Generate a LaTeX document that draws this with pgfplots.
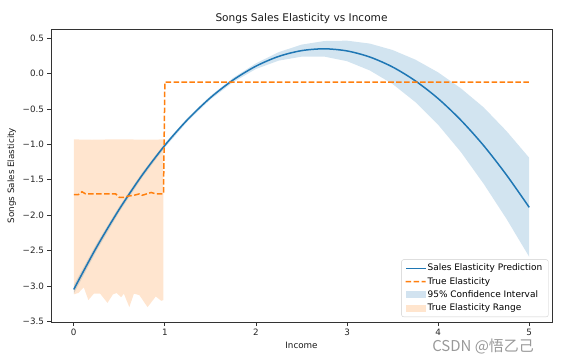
\documentclass[border=0pt]{standalone}
\usepackage{fontspec}
\setmainfont{DejaVu Sans}
\newfontfamily\cjk{Noto Sans CJK SC}
\usepackage{pgfplots}
\pgfplotsset{compat=1.18}
\definecolor{mplblue}{HTML}{1F77B4}
\definecolor{mplorange}{HTML}{FF7F0E}
\begin{document}
\begin{tikzpicture}
\useasboundingbox (-51bp,-36bp) rectangle (511bp,322bp);
\begin{axis}[
  at={(0,0)}, anchor=south west,
  scale only axis, width=501bp, height=293bp,
  xmin=-0.25, xmax=5.25, ymin=-3.51, ymax=0.63,
  xtick={0,1,2,3,4,5}, xticklabels={0,1,2,3,4,5},
  ytick={-3.5,-3,-2.5,-2,-1.5,-1,-0.5,0,0.5},
  yticklabels={−3.5,−3.0,−2.5,−2.0,−1.5,−1.0,−0.5,0.0,0.5},
  tick align=outside, tick pos=left,
  major tick length=3.5bp,
  tick style={black!80, line width=0.8bp},
  axis line style={black!80, line width=0.8bp},
  ticklabel style={font=\fontsize{8.8}{10}\selectfont, text=black!85},
  title={Songs Sales Elasticity vs Income},
  title style={font=\fontsize{10.6}{12}\selectfont, text=black!90, yshift=-4.5bp},
  xlabel={Income}, ylabel={Songs Sales Elasticity},
  label style={font=\fontsize{8.8}{10}\selectfont, text=black!90},
  legend style={at={(0.993,0.017)}, anchor=south east, draw=black!20,
    rounded corners=2bp, fill=white,
    font=\fontsize{9}{10}\selectfont, cells={anchor=west},
    inner xsep=4bp, inner ysep=2.5bp, row sep=1bp},
]
% 95% confidence interval (upper then lower reversed)
\addplot[draw=none, fill=mplblue, fill opacity=0.2, forget plot] coordinates {
(0,-2.990) (0.25,-2.404) (0.5,-1.876) (0.75,-1.401) (1,-0.984) (1.25,-0.624)
(1.5,-0.316) (1.75,-0.060) (2,0.145) (2.25,0.303) (2.5,0.409) (2.75,0.460)
(3,0.465) (3.25,0.424) (3.5,0.333) (3.75,0.197) (4,0.017) (4.25,-0.209)
(4.5,-0.478) (4.75,-0.812) (5,-1.190)
(5,-2.590) (4.75,-2.052) (4.5,-1.558) (4.25,-1.109) (4,-0.723) (3.75,-0.403)
(3.5,-0.147) (3.25,0.044) (3,0.175) (2.75,0.240) (2.5,0.239) (2.25,0.183)
(2,0.065) (1.75,-0.120) (1.5,-0.366) (1.25,-0.674) (1,-1.044) (0.75,-1.471)
(0.5,-1.956) (0.25,-2.504) (0,-3.110)
} -- cycle;
% true elasticity range
\addplot[draw=none, fill=mplorange, fill opacity=0.2, forget plot] coordinates {
(0,-0.93) (0.2,-0.935) (0.4,-0.93) (0.6,-0.93) (0.8,-0.935) (0.985,-0.93)
(0.985,-3.20) (0.96,-3.21) (0.9,-3.15) (0.81,-3.30) (0.72,-3.13) (0.66,-3.11)
(0.61,-3.30) (0.55,-3.11) (0.52,-3.16) (0.47,-3.10) (0.43,-3.12) (0.37,-3.24)
(0.29,-3.11) (0.22,-3.11) (0.16,-3.20) (0.11,-3.02) (0.05,-3.10) (0,-3.12)
} -- cycle;
% prediction
\addplot[draw=mplblue, line width=1.5bp, smooth, forget plot] coordinates {
(0,-3.050) (0.25,-2.454) (0.5,-1.916) (0.75,-1.436) (1,-1.014) (1.25,-0.649)
(1.5,-0.341) (1.75,-0.090) (2,0.105) (2.25,0.243) (2.5,0.324) (2.75,0.350)
(3,0.320) (3.25,0.234) (3.5,0.093) (3.75,-0.103) (4,-0.353) (4.25,-0.659)
(4.5,-1.018) (4.75,-1.432) (5,-1.890)
};
% true elasticity
\addplot[draw=mplorange, line width=1.5bp, dash pattern=on 5.55bp off 2.4bp, forget plot] coordinates {
(0,-1.71) (0.05,-1.71) (0.09,-1.67) (0.13,-1.70) (0.2,-1.70) (0.3,-1.70)
(0.4,-1.70) (0.46,-1.70) (0.5,-1.75) (0.55,-1.75) (0.6,-1.73) (0.66,-1.72)
(0.72,-1.70) (0.75,-1.72) (0.8,-1.70) (0.85,-1.68) (0.9,-1.70) (0.985,-1.70)
(1.0,-0.12) (5,-0.12)
};
\addlegendimage{legend image code/.code={\path[fill=mplblue, draw=none, rounded corners=0pt] (0bp,-0.75bp) rectangle (20bp,0.75bp);}}
\addlegendentry{Sales Elasticity Prediction}
\addlegendimage{legend image code/.code={\path[fill=mplorange, draw=none, rounded corners=0pt] (0bp,-0.75bp) rectangle (5.5bp,0.75bp) (8bp,-0.75bp) rectangle (13.5bp,0.75bp) (16bp,-0.75bp) rectangle (20bp,0.75bp);}}
\addlegendentry{True Elasticity}
\addlegendimage{legend image code/.code={\path[draw=none, fill=mplblue, fill opacity=0.2, rounded corners=0pt] (0bp,-3.5bp) rectangle (20bp,3.5bp);}}
\addlegendentry{95\% Confidence Interval}
\addlegendimage{legend image code/.code={\path[draw=none, fill=mplorange, fill opacity=0.2, rounded corners=0pt] (0bp,-3.5bp) rectangle (20bp,3.5bp);}}
\addlegendentry{True Elasticity Range}
\end{axis}
\node[text=black!40, font=\cjk\fontsize{15}{15}\selectfont, anchor=center, inner sep=0pt] at (432bp,-25bp) {CSDN @悟乙己};
\end{tikzpicture}
\end{document}
